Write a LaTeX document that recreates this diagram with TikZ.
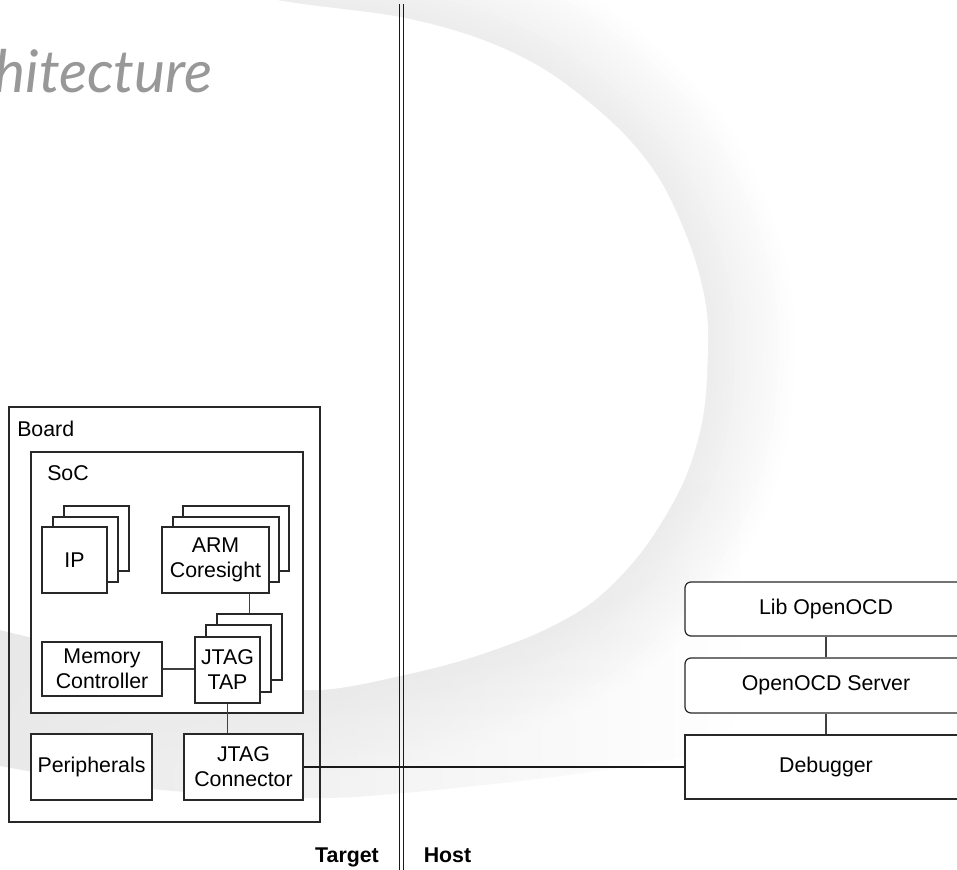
\documentclass[tikz,border=0pt]{standalone}
\usepackage{fontspec}
\setmainfont{Liberation Sans}
\newfontfamily\titlefont{Lato}
\usetikzlibrary{calc,fadings}
\definecolor{titlegray}{RGB}{152,152,152}
\definecolor{edge}{RGB}{40,40,40}
\begin{document}
\begin{tikzpicture}[x=0.75pt,y=-0.75pt,
  place/.style n args={4}{minimum width={(#3-#1)*0.75pt}, minimum height={(#4-#2)*0.75pt},
                          at={({(#1+#3)/2},{(#2+#4)/2})}},
  box/.style={draw=edge, line width=0.9pt, fill=white, inner sep=0pt, align=center,
              font=\fontsize{16}{18.75}\selectfont},
  rbox/.style={box, rounded corners=4.5pt},
  frame/.style={draw=edge, line width=0.9pt, inner sep=0pt},
  lbl/.style={inner sep=0pt, font=\fontsize{16}{18.75}\selectfont},
  blbl/.style={inner sep=0pt, font=\fontsize{16}{18.75}\selectfont\bfseries},
  conn/.style={draw=black!75, line width=0.8pt},
  divider/.style={draw=black!90, line width=1.1pt},
]
\useasboundingbox (0,0) rectangle (957,870);
\clip (0,0) rectangle (957,870);
\fill[white] (0,0) rectangle (957,870);

% ---- background swoosh ----
\foreach \i in {1,...,16} {
  \pgfmathsetmacro\w{130*(17-\i)/16}
  \pgfmathsetmacro\c{0.45*\i}
  \draw[black!\c, line width=\w pt, line cap=round, line join=round]
    plot[smooth, tension=0.55] coordinates {(180,-25) (277,0) (400,17) (483,40) (550,73) (617,127) (660,180) (690,245) (705,300) (708,345) (703,417) (683,483) (643,550) (595,600) (540,632) (470,658) (400,676) (320,690) (230,684) (140,668) (60,645) (0,630) (-25,624)};
}
\fill[black!9, path fading=east]
  plot[smooth, tension=0.55] coordinates {(-25,762) (0,766) (100,783) (200,793) (320,798) (403,793) (520,781) (620,768) (683,757) (720,748) (740,700)}
  -- (740,480) -- (-25,560) -- cycle;
\fill[white]
  plot[smooth, tension=0.55] coordinates {(180,-25) (277,0) (400,17) (483,40) (550,73) (617,127) (660,180) (690,245) (705,300) (708,345) (703,417) (683,483) (643,550) (595,600) (540,632) (470,658) (400,676) (320,690) (230,684) (140,668) (60,645) (0,630) (-25,624)}
  -- (-25,-25) -- cycle;

% ---- title ----
\node[anchor=base east, inner sep=0pt, text=titlegray,
      font=\titlefont\itshape\fontsize{44}{50}\selectfont] (title) at (213,93) {hitecture};

% ---- divider ----
\draw[divider] (399.5,4) -- (399.5,875);
\draw[divider] (403.5,4) -- (403.5,875);

% ---- target side ----
\node[frame, place={9}{407}{320}{822}] (board) {};
\node[lbl, anchor=base west] (boardlbl) at (17,436.5) {Board};
\node[box, place={31}{452}{303}{713}] (soc) {};
\node[lbl, anchor=base west] (soclbl) at (47,480) {SoC};

\node[box, place={64}{506}{129}{571}] (ipB) {};
\node[box, place={53}{517}{118}{582}] (ipM) {};
\node[box, place={42}{527}{107}{593}] (ipF) {IP};

\node[box, place={183}{506}{289}{571}] (armB) {};
\node[box, place={173}{517}{279}{582}] (armM) {};
\node[box, place={162}{527}{269}{593}] (armF) {ARM\\Coresight};

\node[box, place={42}{642}{162}{696}] (mem) {Memory\\Controller};

\node[box, place={217}{614}{282}{680}] (tapB) {};
\node[box, place={206}{625}{271}{692}] (tapM) {};
\node[box, place={195}{637}{260}{703}] (tapF) {JTAG\\TAP};

\node[box, place={31}{734}{152}{800}] (periph) {Peripherals};
\node[box, place={184}{734}{303}{800}] (jconn) {JTAG\\Connector};

% ---- host side ----
\node[rbox, place={685}{582}{967}{636}] (lib) {Lib OpenOCD};
\node[rbox, place={685}{658}{967}{713}] (server) {OpenOCD Server};
\node[box, place={685}{735}{967}{799}] (dbg) {Debugger};

% ---- connectors ----
\draw[conn] (armF.south -| tapB.north) -- (tapB.north);
\draw[conn] (mem.east) -- (mem.east -| tapF.west);
\draw[conn] (tapF.south) -- (tapF.south |- jconn.north);
\draw[conn, draw=black!90] (jconn.east) -- (dbg.west);
\draw[conn] (lib.south) -- (server.north);
\draw[conn] (server.south) -- (dbg.north);

% ---- side labels ----
\node[blbl, anchor=base] (target) at (347,862) {Target};
\node[blbl, anchor=base] (host) at (447.5,862) {Host};
\end{tikzpicture}
\end{document}
